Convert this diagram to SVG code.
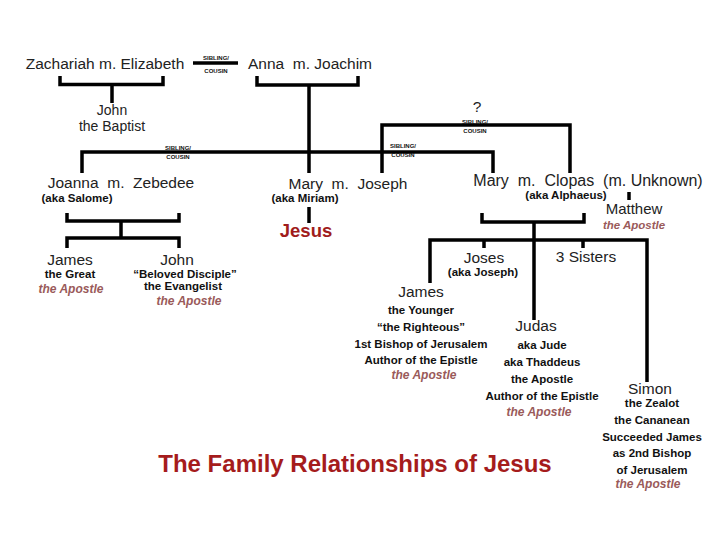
<svg xmlns="http://www.w3.org/2000/svg" width="720" height="540" viewBox="0 0 720 540">
<style>
.n{font-family:"Liberation Sans",Arial,sans-serif;font-size:15.5px;fill:#222;text-anchor:middle}
.b{font-family:"Liberation Sans",Arial,sans-serif;font-size:11.5px;font-weight:bold;fill:#111;text-anchor:middle}
.a{font-family:"Liberation Sans",Arial,sans-serif;font-size:12px;font-style:italic;font-weight:bold;fill:#9a5a5a;text-anchor:middle}
.s{font-family:"Liberation Sans",Arial,sans-serif;font-size:6px;font-weight:bold;fill:#111;text-anchor:middle}
.ln{fill:none;stroke:#000;stroke-width:3.5;stroke-linecap:butt;stroke-linejoin:miter}
</style>
<rect width="720" height="540" fill="#fff"/>
<g id="connectors">
<path class="ln" d="M60,76 V84.5 H163 V76 M112,84.5 V103"/>
<path class="ln" d="M193,63 H238"/>
<path class="ln" d="M257,76 V85 H358 V76 M309,85 V173"/>
<path class="ln" d="M82,173 V152 H493 V173"/>
<path class="ln" d="M382,173 V125 H570 V173"/>
<path class="ln" d="M67,213 V221 H179 V213 M121,221 V238 M67,248 V238 H179 V248"/>
<path class="ln" d="M309,207 V223"/>
<path class="ln" d="M629,192 V200"/>
<path class="ln" d="M482,213 V222 H584 V213 M534,222 V320"/>
<path class="ln" d="M430,283 V240 H647 V382 M484,240 V248 M583,240 V248"/>
</g>
<g id="labels">
<text class="s" x="216" y="60">SIBLING/</text><text class="s" x="216" y="73">COUSIN</text>
<text class="s" x="178" y="150">SIBLING/</text><text class="s" x="178" y="159">COUSIN</text>
<text class="s" x="403" y="148">SIBLING/</text><text class="s" x="403" y="157">COUSIN</text>
<text class="s" x="475" y="124">SIBLING/</text><text class="s" x="475" y="133">COUSIN</text>
<text class="n" x="477" y="112">?</text>
</g>
<g id="zachariah"><text class="n" x="105" y="69">Zachariah m. Elizabeth</text></g>
<g id="anna"><text class="n" x="310" y="69" xml:space="preserve">Anna  m. Joachim</text></g>
<g id="john-baptist"><text class="n" x="112" y="115" style="font-size:14px">John</text><text class="n" x="112" y="131" style="font-size:14px">the Baptist</text></g>
<g id="joanna"><text class="n" x="121" y="188" xml:space="preserve">Joanna  m.  Zebedee</text><text class="b" x="77" y="202">(aka Salome)</text></g>
<g id="mary-joseph"><text class="n" x="348" y="189" xml:space="preserve">Mary  m.  Joseph</text><text class="b" x="305" y="202">(aka Miriam)</text></g>
<g id="jesus"><text x="306" y="237" style="font-family:'Liberation Sans',Arial,sans-serif;font-size:18.5px;font-weight:bold;fill:#a01c1c;text-anchor:middle">Jesus</text></g>
<g id="mary-clopas"><text class="n" x="588" y="186" style="font-size:16px" xml:space="preserve">Mary  m.  Clopas  (m. Unknown)</text><text class="b" x="566" y="199">(aka Alphaeus)</text></g>
<g id="matthew"><text class="n" x="634" y="214" style="font-size:15px">Matthew</text><text class="a" x="634" y="229" style="font-size:11.5px">the Apostle</text></g>
<g id="james-great"><text class="n" x="70" y="265">James</text><text class="b" x="70" y="278">the Great</text><text class="a" x="71" y="293">the Apostle</text></g>
<g id="john"><text class="n" x="177" y="265">John</text><text class="b" x="185" y="278">“Beloved Disciple”</text><text class="b" x="183" y="290">the Evangelist</text><text class="a" x="189" y="305">the Apostle</text></g>
<g id="joses"><text class="n" x="484" y="263">Joses</text><text class="b" x="483" y="276">(aka Joseph)</text></g>
<g id="sisters"><text class="n" x="586" y="262">3 Sisters</text></g>
<g id="james-younger"><text class="n" x="421" y="297">James</text><text class="b" x="421" y="314">the Younger</text><text class="b" x="421" y="331">“the Righteous”</text><text class="b" x="421" y="348">1st Bishop of Jerusalem</text><text class="b" x="421" y="364">Author of the Epistle</text><text class="a" x="424" y="379">the Apostle</text></g>
<g id="judas"><text class="n" x="536" y="331">Judas</text><text class="b" x="542" y="349">aka Jude</text><text class="b" x="542" y="366">aka Thaddeus</text><text class="b" x="542" y="383">the Apostle</text><text class="b" x="542" y="400">Author of the Epistle</text><text class="a" x="539" y="416">the Apostle</text></g>
<g id="simon"><text class="n" x="650" y="394">Simon</text><text class="b" x="652" y="407">the Zealot</text><text class="b" x="652" y="424">the Cananean</text><text class="b" x="652" y="441">Succeeded James</text><text class="b" x="652" y="457">as 2nd Bishop</text><text class="b" x="652" y="474">of Jerusalem</text><text class="a" x="648" y="488">the Apostle</text></g>
<g id="title"><text x="355" y="472" style="font-family:'Liberation Sans',Arial,sans-serif;font-size:24px;font-weight:bold;fill:#a51c1c;text-anchor:middle">The Family Relationships of Jesus</text></g>
</svg>
